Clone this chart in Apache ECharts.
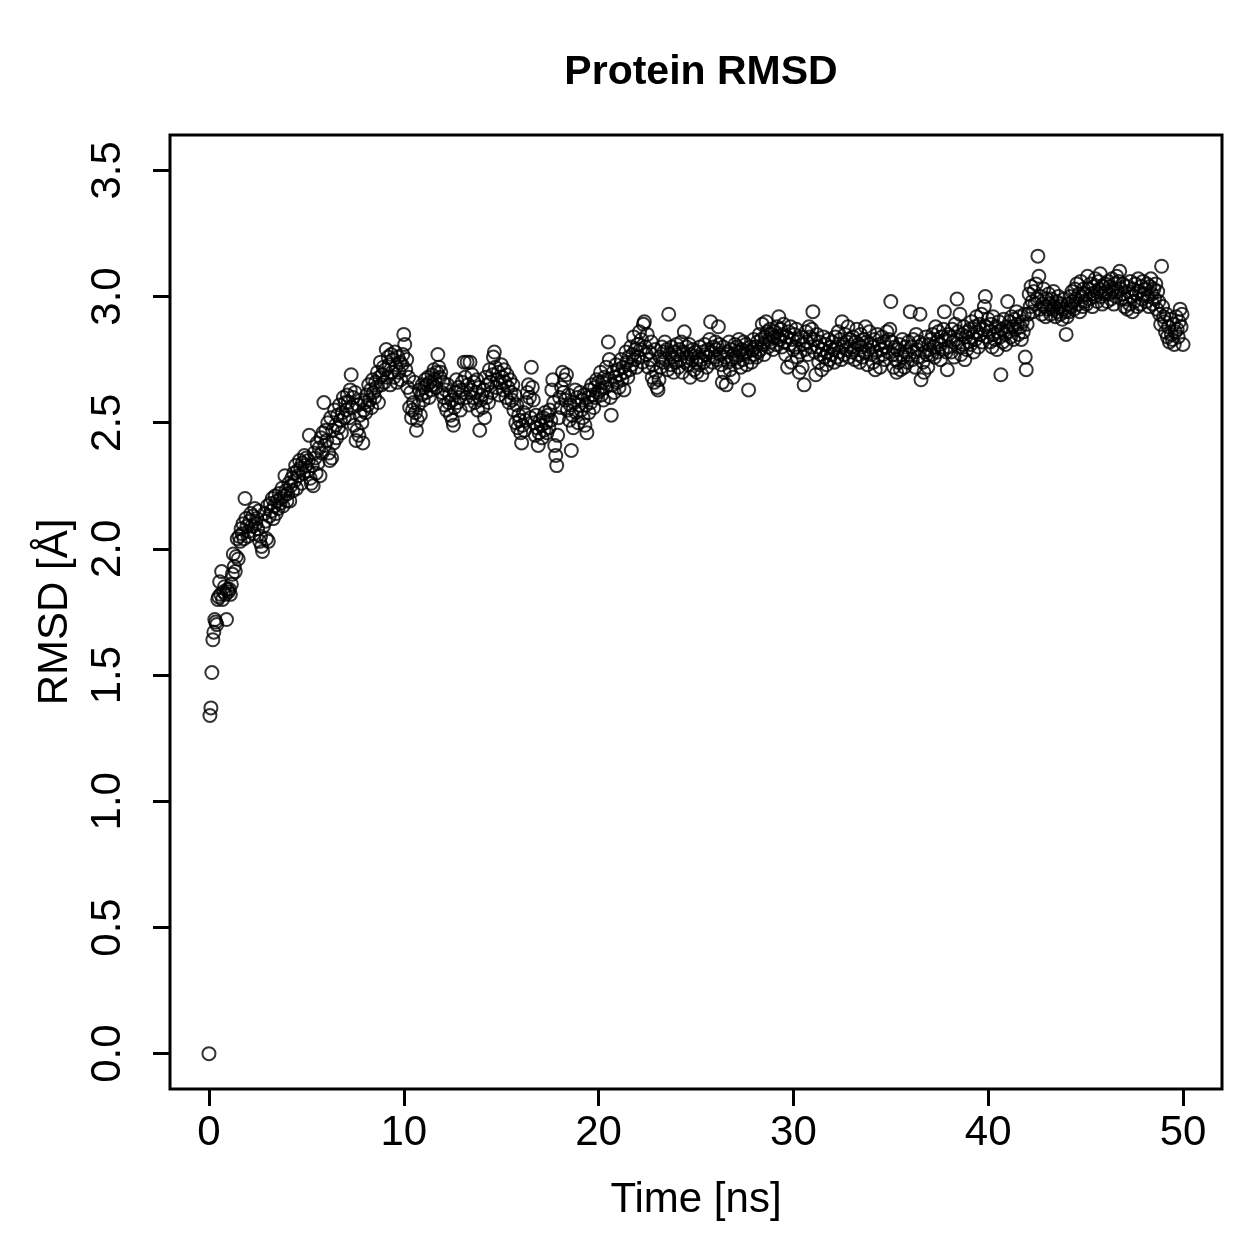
<!DOCTYPE html>
<html>
<head>
<meta charset="utf-8">
<title>Protein RMSD</title>
<script src="https://cdn.jsdelivr.net/npm/echarts@6/dist/echarts.min.js"></script>
<style>
  html, body { margin: 0; padding: 0; background: #fff; }
  #chart { width: 1259px; height: 1259px; }
</style>
</head>
<body>
<div id="chart"></div>
<script>
// frame spacing in ns (one frame every 0.05 ns, 0..50 ns)
var timeStep = 0.05;
var xTicks = [0, 10, 20, 30, 40, 50];
var yTicks = [0, 0.5, 1, 1.5, 2, 2.5, 3, 3.5];

// RMSD [A], first value at t = 0, then one row per ns
var rmsdStart = [0.00];
var rmsd = [
  1.34, 1.37, 1.51, 1.64, 1.67, 1.72, 1.71, 1.70, 1.80, 1.81, 1.87, 1.82, 1.91, 1.80, 1.83, 1.85, 1.82, 1.72, 1.84, 1.83,
  1.84, 1.82, 1.86, 1.90, 1.98, 1.93, 1.91, 1.97, 2.04, 1.96, 2.05, 2.03, 2.08, 2.06, 2.10, 2.04, 2.20, 2.12, 2.09, 2.05,
  2.07, 2.11, 2.14, 2.09, 2.13, 2.06, 2.16, 2.10, 2.12, 2.08, 2.15, 2.03, 2.05, 2.01, 1.99, 2.09, 2.14, 2.11, 2.04, 2.17,
  2.03, 2.13, 2.18, 2.15, 2.20, 2.12, 2.17, 2.21, 2.14, 2.19, 2.16, 2.22, 2.18, 2.20, 2.24, 2.17, 2.21, 2.29, 2.23, 2.19,
  2.22, 2.26, 2.19, 2.25, 2.28, 2.23, 2.30, 2.27, 2.33, 2.24, 2.31, 2.29, 2.35, 2.32, 2.26, 2.34, 2.30, 2.37, 2.33, 2.36,
  2.31, 2.35, 2.45, 2.28, 2.26, 2.33, 2.25, 2.38, 2.36, 2.30, 2.42, 2.34, 2.40, 2.29, 2.44, 2.38, 2.46, 2.58, 2.41, 2.47,
  2.43, 2.50, 2.38, 2.35, 2.52, 2.36, 2.47, 2.42, 2.55, 2.49, 2.44, 2.53, 2.48, 2.57, 2.51, 2.46, 2.54, 2.60, 2.52, 2.58,
  2.55, 2.61, 2.58, 2.52, 2.63, 2.69, 2.56, 2.60, 2.49, 2.62, 2.43, 2.47, 2.57, 2.45, 2.53, 2.59, 2.50, 2.42, 2.55, 2.58,
  2.54, 2.61, 2.57, 2.65, 2.59, 2.63, 2.56, 2.67, 2.62, 2.60, 2.66, 2.64, 2.70, 2.58, 2.68, 2.74, 2.65, 2.69, 2.72, 2.66,
  2.71, 2.79, 2.68, 2.76, 2.73, 2.65, 2.77, 2.70, 2.75, 2.68, 2.78, 2.72, 2.66, 2.76, 2.70, 2.74, 2.67, 2.73, 2.77, 2.85,
  2.81, 2.71, 2.75, 2.64, 2.68, 2.56, 2.62, 2.52, 2.55, 2.58, 2.66, 2.54, 2.47, 2.51, 2.57, 2.63, 2.53, 2.61, 2.65, 2.59,
  2.64, 2.67, 2.62, 2.65, 2.68, 2.60, 2.66, 2.63, 2.69, 2.65, 2.71, 2.67, 2.64, 2.70, 2.77, 2.72, 2.68, 2.70, 2.62, 2.66,
  2.60, 2.57, 2.63, 2.55, 2.65, 2.58, 2.61, 2.53, 2.59, 2.51, 2.49, 2.56, 2.62, 2.67, 2.58, 2.64, 2.60, 2.55, 2.63, 2.66,
  2.62, 2.74, 2.68, 2.60, 2.74, 2.65, 2.57, 2.74, 2.63, 2.69, 2.60, 2.66, 2.58, 2.62, 2.67, 2.55, 2.64, 2.47, 2.59, 2.61,
  2.56, 2.63, 2.52, 2.68, 2.60, 2.65, 2.58, 2.71, 2.66, 2.62, 2.69, 2.76, 2.78, 2.72, 2.64, 2.67, 2.70, 2.61, 2.66, 2.73,
  2.68, 2.63, 2.71, 2.66, 2.60, 2.69, 2.64, 2.58, 2.67, 2.62, 2.59, 2.65, 2.55, 2.61, 2.50, 2.57, 2.48, 2.53, 2.51, 2.46,
  2.42, 2.49, 2.54, 2.47, 2.51, 2.58, 2.62, 2.65, 2.60, 2.52, 2.72, 2.64, 2.59, 2.50, 2.45, 2.53, 2.48, 2.41, 2.46, 2.51,
  2.49, 2.44, 2.52, 2.47, 2.54, 2.50, 2.46, 2.53, 2.48, 2.55, 2.51, 2.63, 2.67, 2.58, 2.41, 2.37, 2.33, 2.45, 2.52, 2.60,
  2.56, 2.64, 2.70, 2.62, 2.67, 2.59, 2.69, 2.55, 2.61, 2.51, 2.57, 2.39, 2.53, 2.48, 2.58, 2.63, 2.54, 2.60, 2.50, 2.57,
  2.62, 2.55, 2.59, 2.52, 2.61, 2.49, 2.57, 2.46, 2.60, 2.54, 2.63, 2.58, 2.65, 2.61, 2.56, 2.64, 2.60, 2.67, 2.62, 2.66,
  2.63, 2.70, 2.61, 2.66, 2.59, 2.68, 2.64, 2.72, 2.67, 2.82, 2.75, 2.60, 2.53, 2.65, 2.70, 2.62, 2.68, 2.73, 2.66, 2.71,
  2.64, 2.69, 2.75, 2.67, 2.72, 2.63, 2.70, 2.78, 2.74, 2.68, 2.76, 2.71, 2.80, 2.73, 2.77, 2.84, 2.75, 2.79, 2.72, 2.81,
  2.76, 2.86, 2.79, 2.83, 2.74, 2.89, 2.90, 2.80, 2.77, 2.85, 2.72, 2.78, 2.75, 2.82, 2.68, 2.73, 2.66, 2.79, 2.70, 2.64,
  2.63, 2.67, 2.76, 2.72, 2.80, 2.74, 2.78, 2.82, 2.75, 2.79, 2.71, 2.93, 2.77, 2.73, 2.80, 2.76, 2.70, 2.78, 2.74, 2.81,
  2.77, 2.72, 2.79, 2.75, 2.82, 2.70, 2.78, 2.86, 2.74, 2.80, 2.76, 2.73, 2.81, 2.68, 2.77, 2.75, 2.79, 2.71, 2.78, 2.74,
  2.70, 2.76, 2.73, 2.80, 2.75, 2.69, 2.78, 2.74, 2.81, 2.77, 2.72, 2.79, 2.76, 2.83, 2.90, 2.78, 2.74, 2.80, 2.76, 2.82,
  2.79, 2.75, 2.88, 2.81, 2.77, 2.73, 2.66, 2.80, 2.70, 2.76, 2.65, 2.78, 2.74, 2.82, 2.71, 2.79, 2.75, 2.68, 2.77, 2.81,
  2.76, 2.80, 2.74, 2.83, 2.78, 2.72, 2.79, 2.75, 2.82, 2.77, 2.81, 2.73, 2.78, 2.63, 2.76, 2.80, 2.74, 2.79, 2.83, 2.77,
  2.80, 2.76, 2.82, 2.78, 2.85, 2.79, 2.83, 2.89, 2.81, 2.77, 2.84, 2.90, 2.86, 2.80, 2.83, 2.87, 2.82, 2.85, 2.79, 2.84,
  2.86, 2.81, 2.88, 2.84, 2.92, 2.83, 2.87, 2.80, 2.85, 2.89, 2.82, 2.77, 2.84, 2.72, 2.86, 2.81, 2.88, 2.74, 2.83, 2.79,
  2.85, 2.80, 2.87, 2.76, 2.83, 2.70, 2.78, 2.84, 2.72, 2.81, 2.65, 2.79, 2.86, 2.82, 2.77, 2.88, 2.84, 2.80, 2.87, 2.94,
  2.83, 2.78, 2.69, 2.85, 2.80, 2.74, 2.82, 2.77, 2.71, 2.79, 2.84, 2.76, 2.81, 2.73, 2.78, 2.83, 2.75, 2.80, 2.77, 2.82,
  2.79, 2.74, 2.84, 2.80, 2.76, 2.86, 2.78, 2.83, 2.75, 2.90, 2.81, 2.77, 2.85, 2.79, 2.82, 2.88, 2.76, 2.83, 2.80, 2.78,
  2.84, 2.79, 2.75, 2.82, 2.87, 2.77, 2.81, 2.74, 2.85, 2.80, 2.76, 2.83, 2.78, 2.88, 2.82, 2.73, 2.79, 2.86, 2.81, 2.77,
  2.80, 2.74, 2.83, 2.71, 2.78, 2.85, 2.76, 2.81, 2.72, 2.79, 2.84, 2.77, 2.82, 2.75, 2.80, 2.86, 2.78, 2.83, 2.87, 2.98,
  2.82, 2.77, 2.72, 2.80, 2.75, 2.70, 2.79, 2.74, 2.81, 2.71, 2.77, 2.83, 2.76, 2.72, 2.80, 2.78, 2.74, 2.82, 2.77, 2.94,
  2.80, 2.75, 2.83, 2.78, 2.72, 2.85, 2.79, 2.76, 2.82, 2.93, 2.67, 2.81, 2.74, 2.70, 2.78, 2.84, 2.77, 2.72, 2.81, 2.79,
  2.83, 2.77, 2.85, 2.80, 2.76, 2.88, 2.82, 2.78, 2.86, 2.81, 2.75, 2.84, 2.79, 2.87, 2.94, 2.83, 2.78, 2.71, 2.85, 2.80,
  2.84, 2.78, 2.87, 2.82, 2.76, 2.89, 2.83, 2.99, 2.86, 2.80, 2.93, 2.77, 2.85, 2.81, 2.88, 2.75, 2.84, 2.79, 2.86, 2.82,
  2.87, 2.81, 2.90, 2.84, 2.78, 2.88, 2.83, 2.92, 2.86, 2.80, 2.89, 2.85, 2.93, 2.82, 2.87, 2.96, 3.00, 2.88, 2.84, 2.91,
  2.86, 2.82, 2.89, 2.80, 2.92, 2.85, 2.83, 2.88, 2.79, 2.86, 2.90, 2.84, 2.69, 2.87, 2.82, 2.91, 2.85, 2.81, 2.88, 2.98,
  2.86, 2.90, 2.84, 2.92, 2.88, 2.83, 2.91, 2.87, 2.94, 2.89, 2.85, 2.92, 2.88, 2.83, 2.90, 2.86, 2.93, 2.76, 2.71, 2.89,
  2.93, 3.01, 2.96, 3.04, 2.98, 2.94, 3.02, 2.97, 3.05, 2.99, 3.16, 3.08, 2.95, 3.00, 2.93, 2.97, 3.03, 2.96, 2.92, 2.99,
  2.95, 3.01, 2.97, 2.93, 2.99, 2.95, 3.02, 2.96, 2.92, 2.98, 2.94, 3.00, 2.96, 2.93, 2.97, 2.91, 2.95, 2.99, 2.94, 2.85,
  2.92, 2.97, 2.94, 3.00, 2.96, 3.02, 2.98, 2.95, 3.03, 2.99, 3.05, 2.97, 3.01, 2.94, 3.06, 3.00, 2.96, 3.03, 2.98, 3.01,
  2.97, 3.08, 3.03, 2.99, 3.05, 3.01, 2.96, 3.04, 3.00, 3.07, 3.02, 2.98, 3.06, 3.03, 3.09, 3.00, 2.97, 3.04, 3.01, 3.05,
  3.02, 2.98, 3.06, 3.01, 3.04, 2.99, 3.07, 3.03, 2.97, 3.05, 3.00, 3.08, 3.02, 3.06, 3.10, 3.03, 2.99, 3.05, 3.01, 2.96,
  2.99, 3.04, 2.95, 3.02, 2.97, 3.06, 3.00, 2.94, 3.03, 2.98, 3.05, 3.01, 2.96, 3.07, 3.02, 2.97, 3.04, 2.99, 3.06, 3.01,
  3.03, 2.98, 3.05, 3.00, 2.96, 3.04, 3.07, 3.01, 2.97, 3.03, 2.99, 3.05, 2.95, 3.02, 2.98, 2.93, 2.89, 3.12, 2.96, 2.92,
  2.90, 2.86, 2.93, 2.84, 2.88, 2.82, 2.91, 2.85, 2.83, 2.89, 2.81, 2.86, 2.92, 2.87, 2.84, 2.90, 2.95, 2.88, 2.93, 2.81
];

var allRmsd = rmsdStart.concat(rmsd);
var points = [];
for (var i = 0; i < allRmsd.length; i++) {
    points.push([+(i * timeStep).toFixed(2), allRmsd[i]]);
}

var fontName = 'Liberation Sans';
var myChart = echarts.init(document.getElementById('chart'), null, { renderer: 'canvas' });
var option = {
    animation: false,
    backgroundColor: '#ffffff',
    title: {
        text: 'Protein RMSD',
        left: 696,
        top: 47,
        textAlign: 'center',
        textStyle: {
            color: '#000',
            fontFamily: fontName,
            fontWeight: 'bold',
            fontSize: 41
        }
    },
    grid: {
        show: true,
        left: 170,
        right: 37,
        top: 135,
        bottom: 170,
        borderColor: '#000',
        borderWidth: 3,
        backgroundColor: 'transparent',
        outerBoundsMode: 'none'
    },
    xAxis: {
        type: 'value',
        min: -2,
        max: 52,
        name: 'Time [ns]',
        nameLocation: 'middle',
        nameGap: 90,
        nameTextStyle: { color: '#000', fontFamily: fontName, fontSize: 42 },
        axisLine: { show: false, onZero: false },
        splitLine: { show: false },
        axisTick: {
            show: true,
            customValues: xTicks,
            length: 17,
            lineStyle: { color: '#000', width: 3 }
        },
        axisLabel: {
            customValues: xTicks,
            margin: 23,
            color: '#000',
            fontFamily: fontName,
            fontSize: 42
        }
    },
    yAxis: {
        type: 'value',
        min: -0.14,
        max: 3.64,
        name: 'RMSD [Å]',
        nameLocation: 'middle',
        nameGap: 94,
        nameTextStyle: { color: '#000', fontFamily: fontName, fontSize: 42 },
        axisLine: { show: false, onZero: false },
        splitLine: { show: false },
        axisTick: {
            show: true,
            customValues: yTicks,
            length: 17,
            lineStyle: { color: '#000', width: 3 }
        },
        axisLabel: {
            customValues: yTicks,
            rotate: 90,
            margin: 41,
            color: '#000',
            fontFamily: fontName,
            fontSize: 42,
            formatter: function (v) { return v.toFixed(1); }
        }
    },
    series: [
        {
            name: 'RMSD',
            type: 'scatter',
            symbol: 'circle',
            symbolSize: 13,
            data: points,
            itemStyle: {
                color: 'rgba(0,0,0,0)',
                borderColor: '#000',
                borderWidth: 2
            },
            emphasis: { disabled: true }
        }
    ]
};
myChart.setOption(option);
</script>
</body>
</html>
